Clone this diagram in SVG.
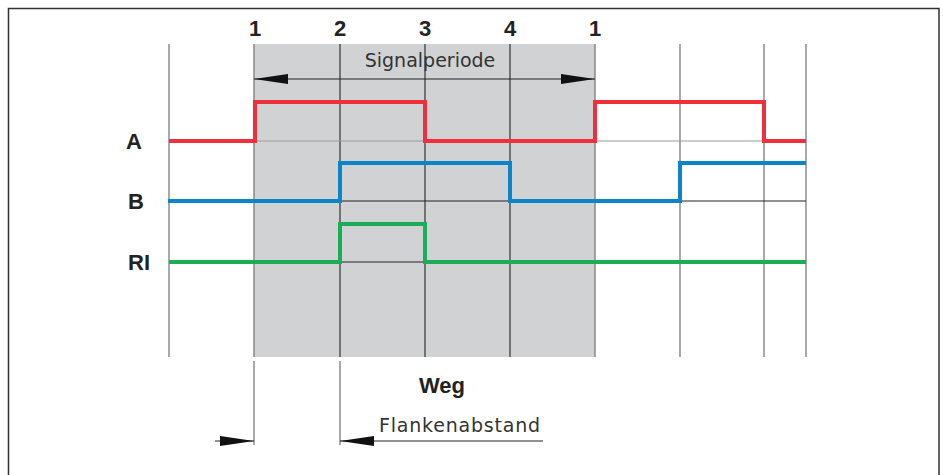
<svg xmlns="http://www.w3.org/2000/svg" width="943" height="475" viewBox="0 0 943 475">
<style>
.vg{stroke:#7a7a7a;stroke-width:1.3;fill:none}
.vd{stroke:#333;stroke-width:1.2;fill:none}
.ref{stroke:#999;stroke-width:1.2;fill:none}
.refd{stroke:#222;stroke-width:1.1;fill:none}
.sig{fill:none;stroke-width:4;stroke-linejoin:miter}
.lbl{font-family:"Liberation Sans",Arial,sans-serif;font-weight:bold;font-size:22px;fill:#222;text-anchor:middle}
.txt{font-family:"DejaVu Sans","Liberation Sans",sans-serif;font-size:19px;fill:#333;text-anchor:middle}
.dim{stroke:#222;stroke-width:1.1;fill:none}
</style>
<defs>
<marker id="ah" viewBox="0 0 34 10" refX="34" refY="5" markerWidth="34" markerHeight="10" markerUnits="userSpaceOnUse" orient="auto-start-reverse">
<path d="M0,0 L34,5 L0,10 z" fill="#111"/>
</marker>
</defs>
<rect x="8.5" y="8.5" width="930.5" height="480" fill="#fff" stroke="#333" stroke-width="1.5"/>
<rect id="period-bg" x="254" y="44" width="341" height="313" fill="#d1d2d4"/>
<g id="grid">
<line class="vg" x1="169" y1="44" x2="169" y2="357"/>
<line class="vg" x1="254" y1="44" x2="254" y2="357"/>
<line class="vd" x1="340" y1="44" x2="340" y2="357"/>
<line class="vd" x1="425" y1="44" x2="425" y2="357"/>
<line class="vd" x1="510" y1="44" x2="510" y2="357"/>
<line class="vg" x1="595" y1="44" x2="595" y2="357"/>
<line class="vg" x1="680" y1="44" x2="680" y2="357"/>
<line class="vg" x1="764" y1="44" x2="764" y2="357"/>
<line class="vg" x1="806" y1="44" x2="806" y2="357"/>
<line class="ref" x1="254" y1="141" x2="425" y2="141"/>
<line class="ref" x1="595" y1="141" x2="764" y2="141"/>
<line class="refd" x1="340" y1="201" x2="510" y2="201"/>
<line class="refd" x1="680" y1="201" x2="806" y2="201"/>
<line class="refd" x1="340" y1="262" x2="425" y2="262"/>
<line class="vg" x1="254" y1="361" x2="254" y2="445"/>
<line class="vg" x1="340" y1="361" x2="340" y2="445"/>
</g>
<g id="labels">
<text class="lbl" x="255" y="36">1</text>
<text class="lbl" x="340" y="36">2</text>
<text class="lbl" x="425" y="36">3</text>
<text class="lbl" x="510" y="36">4</text>
<text class="lbl" x="595" y="36">1</text>
<text class="lbl" x="134" y="149">A</text>
<text class="lbl" x="136" y="209">B</text>
<text class="lbl" x="139" y="270">RI</text>
<text class="lbl" x="442" y="393">Weg</text>
</g>
<g id="signal-A"><polyline class="sig" stroke="#ee2f3c" points="169,141 255,141 255,102 425,102 425,141 595,141 595,102 764,102 764,141 806,141"/></g>
<g id="signal-B"><polyline class="sig" stroke="#0b84c8" points="168,201 340,201 340,163 510,163 510,201 680,201 680,163 806,163"/></g>
<g id="signal-RI"><polyline class="sig" stroke="#1bae57" points="169,262 340,262 340,224 425,224 425,262 806,262"/></g>
<g id="connectors">
<line class="dim" x1="254" y1="79" x2="595" y2="79" marker-start="url(#ah)" marker-end="url(#ah)"/>
<line class="dim" x1="215" y1="441" x2="254" y2="441" marker-end="url(#ah)"/>
<line class="dim" x1="543" y1="441" x2="340" y2="441" marker-end="url(#ah)"/>
</g>
<g id="texts">
<text class="txt" x="430" y="67">Signalperiode</text>
<text class="txt" x="460" y="432" letter-spacing="0.8">Flankenabstand</text>
</g>
</svg>
